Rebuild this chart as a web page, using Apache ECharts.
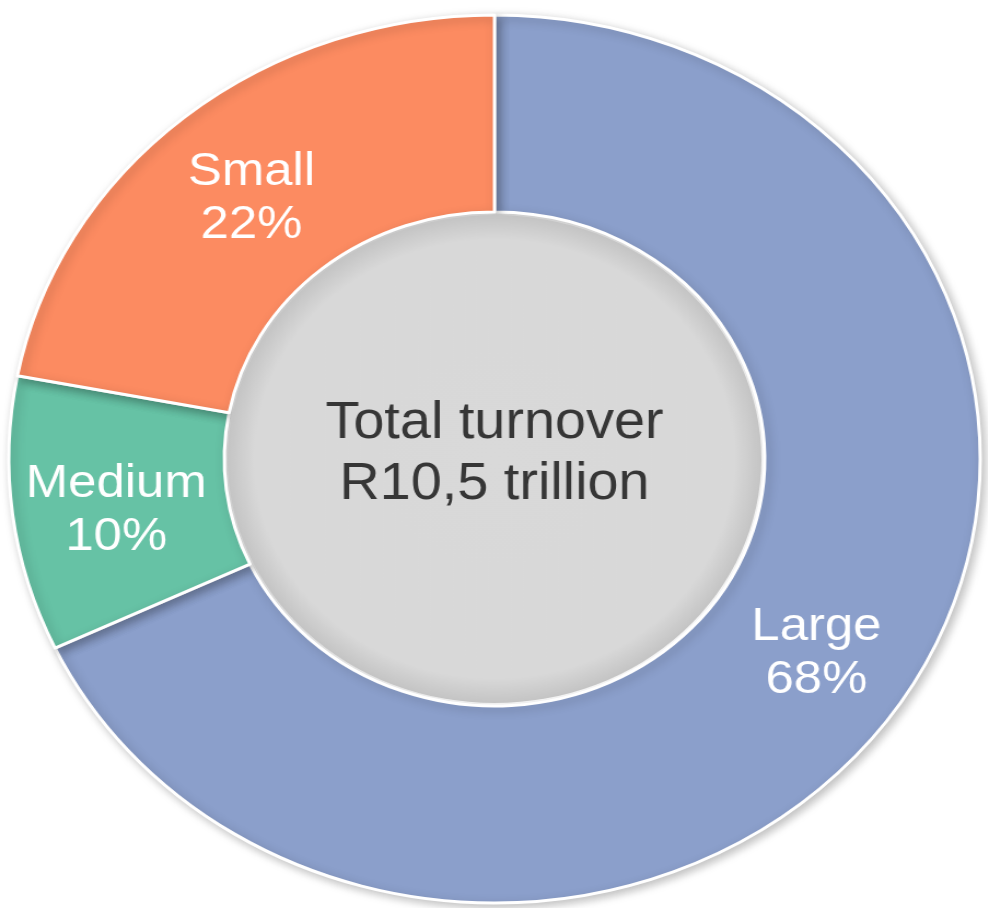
<!DOCTYPE html>
<html>
<head>
<meta charset="utf-8">
<script src="https://cdn.jsdelivr.net/npm/echarts@6/dist/echarts.min.js"></script>
<style>
html,body{margin:0;padding:0;background:#fff;overflow:hidden;}
#chart{position:absolute;left:0;top:0;width:904px;height:908px;transform:scaleX(1.094);transform-origin:0 0;}
</style>
</head>
<body>
<div id="chart"></div>
<script>
const categories = ['Large', 'Medium', 'Small'];
const values = [68, 10, 22];
const colors = ['#8b9fcb', '#66c2a5', '#fc8b61'];
const centerLines = ['Total turnover', 'R10,5 trillion'];

const chart = echarts.init(document.getElementById('chart'), null, {renderer: 'canvas'});
const font = '"Liberation Sans", Arial, sans-serif';

chart.setOption({
  animation: false,
  series: [
    {
      type: 'pie',
      center: ['50%', 459],
      radius: [247, 444],
      startAngle: 90,
      clockwise: true,
      silent: true,
      itemStyle: {
        borderColor: '#ffffff',
        borderWidth: 3,
        shadowBlur: 10,
        shadowOffsetX: 3,
        shadowOffsetY: 3,
        shadowColor: 'rgba(0,0,0,0.25)'
      },
      label: {
        show: true,
        position: 'inside',
        formatter: '{b}\n{d}%',
        color: '#ffffff',
        fontFamily: font,
        fontSize: 46.5,
        lineHeight: 53,
        offset: [0, 8]
      },
      labelLine: {show: false},
      data: categories.map((c, i) => ({name: c, value: values[i], itemStyle: {color: colors[i]}}))
    },
    {
      type: 'pie',
      center: ['50%', 459],
      radius: [0, 244],
      silent: true,
      z: 3,
      itemStyle: {
        color: {
          type: 'radial', x: 0.5, y: 0.5, r: 0.5,
          colorStops: [
            {offset: 0, color: '#d9d9d9'},
            {offset: 0.9, color: '#d8d8d8'},
            {offset: 1, color: '#c4c4c4'}
          ]
        },
        borderColor: '#ffffff',
        borderWidth: 0
      },
      label: {
        show: true,
        position: 'center',
        formatter: centerLines.join('\n'),
        color: '#363636',
        fontFamily: font,
        fontSize: 51,
        lineHeight: 61,
        offset: [0, -5]
      },
      labelLine: {show: false},
      data: [{name: 'total', value: 1}]
    }
  ]
});
</script>
</body>
</html>
